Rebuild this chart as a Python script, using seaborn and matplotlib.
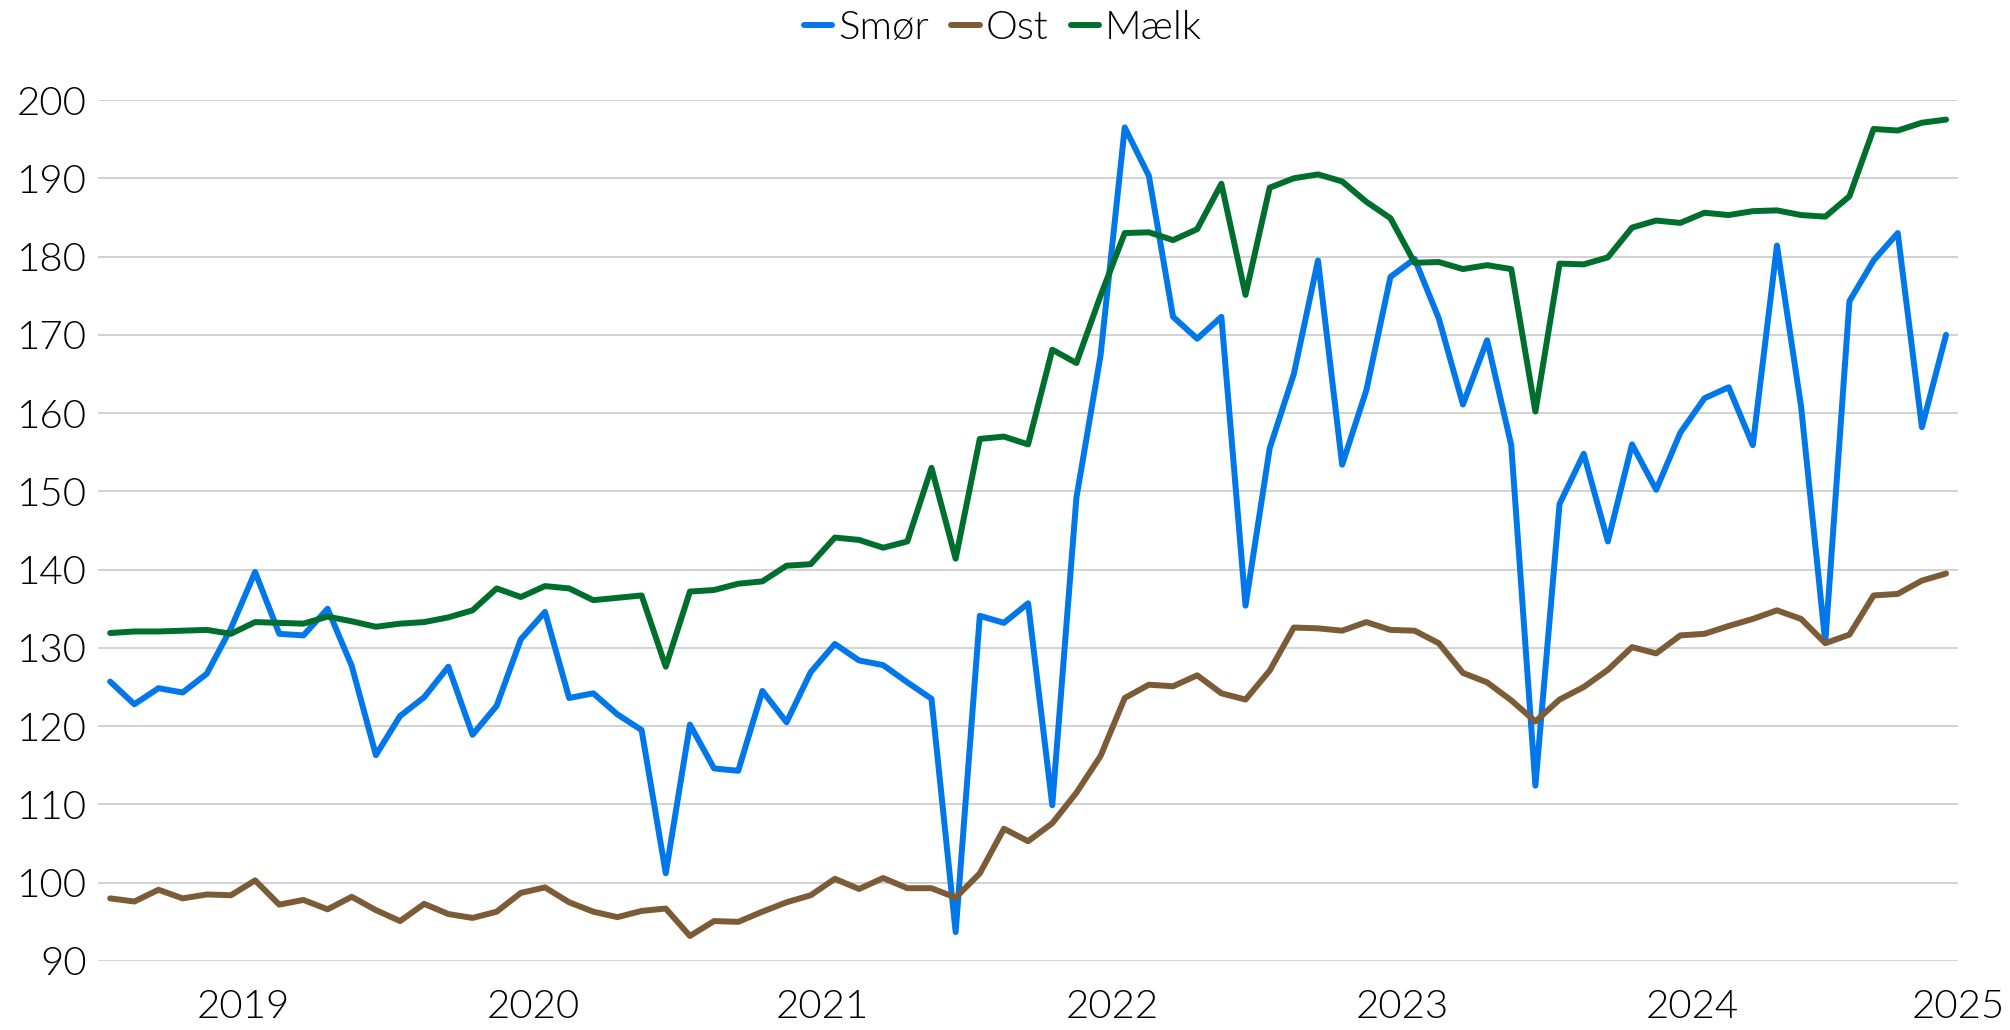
import numpy as np
import pandas as pd
import seaborn as sns
from matplotlib import pyplot as plt

# %%
# monthly price index, Jan 2019 - May 2025
maaneder = pd.date_range("2019-01-01", periods=77, freq="MS")

smoer = [125.7, 122.8, 124.85, 124.3, 126.7, 132.5, 139.7, 131.8, 131.6, 135.0,
         127.7, 116.3, 121.3, 123.7, 127.6, 118.9, 122.6, 131.1, 134.6, 123.6,
         124.2, 121.5, 119.5, 101.2, 120.2, 114.6, 114.3, 124.5, 120.5, 126.9,
         130.5, 128.4, 127.8, 125.6, 123.5, 93.7, 134.1, 133.2, 135.7, 109.9,
         149.2, 167.4, 196.5, 190.3, 172.3, 169.5, 172.3, 135.4, 155.5, 165.0,
         179.5, 153.4, 162.9, 177.4, 179.7, 172.1, 161.1, 169.3, 155.9, 112.4,
         148.4, 154.8, 143.6, 156.0, 150.2, 157.5, 161.9, 163.3, 155.9, 181.4,
         160.8, 130.7, 174.3, 179.5, 183.0, 158.2, 170.0]

ost = [98.0, 97.6, 99.1, 98.0, 98.5, 98.4, 100.3, 97.2, 97.8, 96.6,
       98.2, 96.5, 95.1, 97.3, 96.0, 95.5, 96.3, 98.7, 99.4, 97.5,
       96.3, 95.6, 96.4, 96.7, 93.2, 95.1, 95.0, 96.3, 97.5, 98.4,
       100.5, 99.2, 100.6, 99.3, 99.3, 98.1, 101.2, 106.9, 105.3, 107.6,
       111.5, 116.2, 123.6, 125.3, 125.1, 126.5, 124.2, 123.4, 127.1, 132.6,
       132.5, 132.2, 133.3, 132.3, 132.2, 130.6, 126.8, 125.6, 123.3, 120.6,
       123.4, 125.0, 127.2, 130.1, 129.3, 131.6, 131.8, 132.8, 133.7, 134.8,
       133.7, 130.6, 131.7, 136.7, 136.9, 138.6, 139.5]

maelk = [131.9, 132.1, 132.1, 132.2, 132.3, 131.8, 133.3, 133.2, 133.1, 134.0,
         133.4, 132.7, 133.1, 133.3, 133.9, 134.8, 137.6, 136.5, 137.9, 137.6,
         136.1, 136.4, 136.7, 127.6, 137.2, 137.4, 138.2, 138.5, 140.5, 140.7,
         144.1, 143.8, 142.8, 143.6, 153.0, 141.4, 156.7, 157.0, 156.0, 168.1,
         166.4, 175.0, 183.0, 183.1, 182.1, 183.5, 189.3, 175.1, 188.8, 190.0,
         190.5, 189.6, 187.0, 184.9, 179.2, 179.3, 178.4, 178.9, 178.4, 160.2,
         179.1, 179.0, 179.9, 183.7, 184.6, 184.3, 185.6, 185.3, 185.8, 185.9,
         185.3, 185.1, 187.7, 196.3, 196.1, 197.1, 197.5]

serier = ["Smør", "Ost", "Mælk"]
farver = {"Smør": "#0078EA", "Ost": "#7C5C37", "Mælk": "#006F2E"}
y_ticks = list(range(90, 201, 10))
aar = [2019, 2020, 2021, 2022, 2023, 2024, 2025]

# %%
df = pd.DataFrame({"dato": maaneder, "Smør": smoer, "Ost": ost, "Mælk": maelk})
df["nr"] = np.arange(len(df))
long = df.melt(id_vars=["dato", "nr"], value_vars=serier, var_name="serie", value_name="indeks")

# %%
sns.set_theme(style="white")
plt.rcParams["font.family"] = ["Lato", "DejaVu Sans"]
plt.rcParams["font.weight"] = 300
plt.rcParams["text.color"] = "#000000"

fig = plt.figure(figsize=(20.1, 10.3), dpi=100)
ax = fig.add_axes([0.0488, 0.067, 0.9254, 0.8359])

sns.lineplot(data=long, x="nr", y="indeks", hue="serie", hue_order=serier,
             palette=farver, linewidth=4.3, ax=ax)

ax.set_xlim(-0.5, len(df) - 0.5)
ax.set_ylim(90, 200)
ax.set_yticks(y_ticks)
ax.yaxis.grid(True, color="#d2d2d2", linewidth=1.4)
ax.xaxis.grid(False)
ax.set_axisbelow(True)
for s in ax.spines.values():
    s.set_visible(False)

# year labels centred in each year, last one kept inside the figure
pos = [min(12 * (a - aar[0]) + 5.5, len(df) - 0.5) for a in aar]
ax.set_xticks(pos)
ax.set_xticklabels([str(a) for a in aar])
ax.tick_params(axis="both", length=0, labelsize=29, colors="#000000")
ax.tick_params(axis="x", pad=20)
ax.tick_params(axis="y", pad=8)
ax.set_xlabel("")
ax.set_ylabel("")

handles, labels = ax.get_legend_handles_labels()
ax.get_legend().remove()
fig.legend(handles, labels, loc="center", bbox_to_anchor=(0.499, 0.973), ncol=3,
           frameon=False, fontsize=29, handlelength=0.7, handletextpad=0.15,
           columnspacing=0.55, labelcolor="#000000")

fig.savefig("out.png", dpi=100)
